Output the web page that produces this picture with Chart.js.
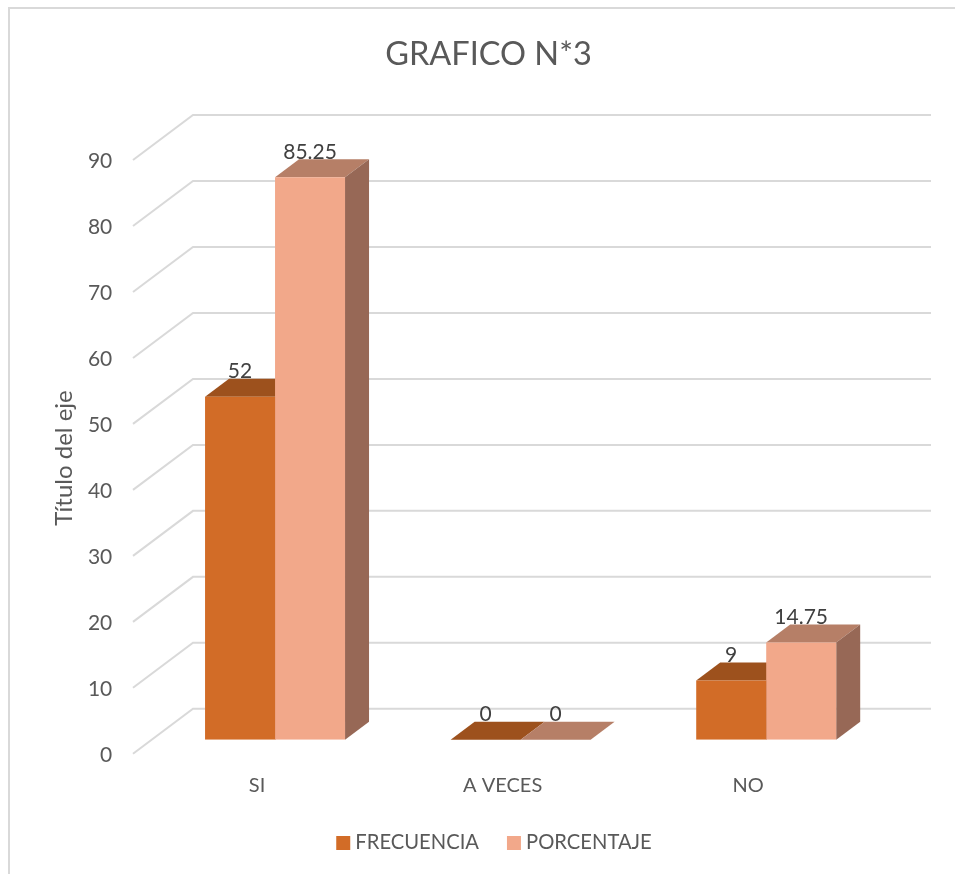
<!DOCTYPE html>
<html>
<head>
<meta charset="utf-8">
<title>GRAFICO N*3</title>
<script src="https://cdn.jsdelivr.net/npm/chart.js@4/dist/chart.umd.js"></script>
<style>
	html, body { margin: 0; background: #fff; }
	canvas { display: block; }
</style>
</head>
<body>
<canvas id="chart" width="955" height="874"></canvas>
<script>
const categories = ['SI', 'A VECES', 'NO'];
const frecuencia = [52, 0, 9];
const porcentaje = [85.25, 0, 14.75];
const yTicks = [0, 10, 20, 30, 40, 50, 60, 70, 80, 90];

const FONT = 'Lato, "Open Sans", sans-serif';
const TEXT = '#595959';
const GRID = '#d9d9d9';

// depth of the bars, and where the floor/back wall sit relative to the bar baseline
const BAR_DX = 24, BAR_DY = 18;
const WALL_LEFT = 133, WALL_BACK = 193, WALL_RIGHT = 931;
const FRONT_DROP = 14, BACK_RISE = 31;

const faces = [
	{ top: '#9d511d', side: '#8f4a1b' },
	{ top: '#b67f67', side: '#976856' }
];

const walls = {
	id: 'walls',
	afterLayout(chart) {
		// the legend row sits a little right of the plot centre
		chart.legend.left += 8;
		chart.legend.right += 8;
	},
	beforeDraw(chart) {
		const ctx = chart.ctx;
		ctx.save();
		ctx.fillStyle = '#fff';
		ctx.fillRect(0, 0, chart.width, chart.height);
		// frame only shows on the top and left
		ctx.strokeStyle = GRID;
		ctx.lineWidth = 2;
		ctx.beginPath();
		ctx.moveTo(9, chart.height);
		ctx.lineTo(9, 8);
		ctx.lineTo(chart.width, 8);
		ctx.stroke();
		ctx.restore();
	},
	beforeDatasetsDraw(chart) {
		const ctx = chart.ctx, y = chart.scales.y;
		ctx.save();
		ctx.strokeStyle = GRID;
		ctx.lineWidth = 2;
		y.ticks.forEach((tick) => {
			const p = y.getPixelForValue(tick.value);
			ctx.beginPath();
			ctx.moveTo(WALL_LEFT, p + FRONT_DROP);
			ctx.lineTo(WALL_BACK, p - BACK_RISE);
			ctx.lineTo(WALL_RIGHT, p - BACK_RISE);
			ctx.stroke();
		});
		// top and side faces go under the front faces the library draws
		chart.data.datasets.forEach((ds, i) => {
			chart.getDatasetMeta(i).data.forEach((bar) => {
				const left = bar.x - bar.width / 2, right = bar.x + bar.width / 2;
				ctx.fillStyle = faces[i].top;
				ctx.beginPath();
				ctx.moveTo(left, bar.y);
				ctx.lineTo(left + BAR_DX, bar.y - BAR_DY);
				ctx.lineTo(right + BAR_DX, bar.y - BAR_DY);
				ctx.lineTo(right, bar.y);
				ctx.fill();
				if (bar.base - bar.y < 1) return;
				ctx.fillStyle = faces[i].side;
				ctx.beginPath();
				ctx.moveTo(right, bar.y);
				ctx.lineTo(right + BAR_DX, bar.y - BAR_DY);
				ctx.lineTo(right + BAR_DX, bar.base - BAR_DY);
				ctx.lineTo(right, bar.base);
				ctx.fill();
			});
		});
		ctx.restore();
	},
	afterDatasetsDraw(chart) {
		const ctx = chart.ctx;
		ctx.save();
		ctx.font = '21px ' + FONT;
		ctx.fillStyle = '#404040';
		ctx.textAlign = 'center';
		ctx.textBaseline = 'middle';
		chart.data.datasets.forEach((ds, i) => {
			chart.getDatasetMeta(i).data.forEach((bar, j) => {
				ctx.fillText(String(ds.data[j]), bar.x, bar.y - 25.5);
			});
		});
		// axis title sits lower than the scale centre, so it is placed by hand
		ctx.font = '24px ' + FONT;
		ctx.fillStyle = TEXT;
		ctx.translate(64, 458);
		ctx.rotate(-Math.PI / 2);
		ctx.fillText('Título del eje', 0, 0);
		ctx.restore();
	}
};

new Chart(document.getElementById('chart'), {
	type: 'bar',
	data: {
		labels: categories,
		datasets: [
			{ label: 'FRECUENCIA', data: frecuencia, backgroundColor: '#d26c27', categoryPercentage: 0.57, barPercentage: 1 },
			{ label: 'PORCENTAJE', data: porcentaje, backgroundColor: '#f2a88a', categoryPercentage: 0.57, barPercentage: 1 }
		]
	},
	options: {
		responsive: false,
		animation: false,
		layout: { padding: { left: 88, right: 66, top: 0, bottom: 11 } },
		scales: {
			x: {
				grid: { display: false },
				border: { display: false },
				afterFit: (s) => { s.height = 60; },
				ticks: { color: TEXT, font: { family: FONT, size: 20 }, labelOffset: -18, padding: 26, maxRotation: 0 }
			},
			y: {
				min: 0,
				max: 90,
				grid: { display: false },
				border: { display: false },
				afterFit: (s) => { s.width = 64.25; },
				afterBuildTicks: (s) => { s.ticks = yTicks.map((value) => ({ value })); },
				ticks: { color: TEXT, font: { family: FONT, size: 21 }, labelOffset: 15.5, padding: 32 }
			}
		},
		plugins: {
			title: {
				display: true,
				text: 'GRAFICO N*3',
				color: TEXT,
				font: { family: FONT, size: 32.5, weight: 'normal' },
				padding: { top: 35, bottom: 72 }
			},
			legend: {
				position: 'bottom',
				labels: {
					color: TEXT,
					font: { family: FONT, size: 20.2 },
					usePointStyle: true,
					pointStyle: 'rect',
					boxWidth: 4,
					boxHeight: 14,
					padding: 33
				}
			},
			tooltip: { enabled: false }
		}
	},
	plugins: [walls]
});
</script>
</body>
</html>
